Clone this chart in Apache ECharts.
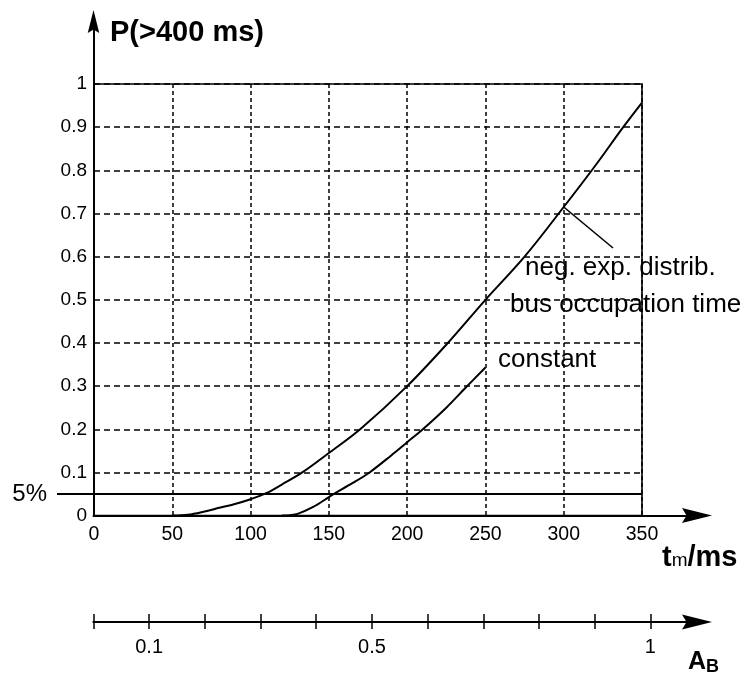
<!DOCTYPE html>
<html>
<head>
<meta charset="utf-8">
<script src="https://cdn.jsdelivr.net/npm/echarts@6/dist/echarts.min.js"></script>
<style>
  html, body { margin: 0; padding: 0; background: #fff; }
  #chart { width: 745px; height: 674px; }
</style>
</head>
<body>
<div id="chart"></div>
<script>
// values
const yTicks = [0, 0.1, 0.2, 0.3, 0.4, 0.5, 0.6, 0.7, 0.8, 0.9, 1];
const negExpT = [50, 60, 70, 80, 90, 100, 110, 120, 133, 150, 170, 200, 226, 250, 275, 300, 320, 338, 350];
const negExpP = [0, 0.002, 0.009, 0.018, 0.027, 0.038, 0.052, 0.072, 0.1, 0.145, 0.2, 0.3, 0.4, 0.5, 0.6, 0.715, 0.81, 0.9, 0.957];
const constT = [120, 125, 130, 140, 150, 153, 165, 176, 190, 200, 210, 225, 237, 250];
const constP = [0, 0.001, 0.004, 0.02, 0.043, 0.05, 0.075, 0.1, 0.14, 0.17, 0.2, 0.25, 0.295, 0.343];
const pointerT = [300, 331.5];   // leader line from the curve to the label
const pointerP = [0.715, 0.62];
const threshold = 0.05;          // 5% line
const abLabels = [0.1, 0.5, 1];

const zip = (xs, ys) => xs.map((x, i) => [x, ys[i]]);

const FONT = "'Liberation Sans', Arial, sans-serif";
const INK = '#000';

const arrowSym = 'path://M5 0 L10 20 L5 17 L0 20 Z';

const chart = echarts.init(document.getElementById('chart'), null, { renderer: 'canvas' });

const option = {
  backgroundColor: '#fff',
  animation: false,
  grid: [
    // main plot
    { left: 94, top: 84, width: 548, height: 431.6, show: true, borderColor: INK, borderWidth: 1.6, backgroundColor: 'transparent' },
    // axis arrows
    { left: 93.5, top: 21.5, width: 603.5, height: 494.1 },
    // 5% line, reaching left of the plot
    { left: 57, top: 84, width: 585, height: 431.6 },
    // A_B scale line + labels
    { left: 93.4, top: 621, width: 603.6, height: 1 },
    // A_B tick marks (crossing the line)
    { left: 93.4, top: 614, width: 557, height: 15 }
  ],
  xAxis: [
    {
      gridIndex: 0, type: 'value', min: 0, max: 350, interval: 50,
      axisLine: { show: false },
      axisTick: { show: false },
      axisLabel: { color: INK, fontFamily: FONT, fontSize: 19.5, margin: 9 },
      splitLine: { show: true, lineStyle: { color: INK, width: 1.5, type: [4, 3] } }
    },
    {
      gridIndex: 1, type: 'value', min: 0, max: 1,
      axisLine: { show: true, lineStyle: { color: INK, width: 2 }, symbol: ['none', arrowSym], symbolSize: [15, 30] },
      axisTick: { show: false }, axisLabel: { show: false }, splitLine: { show: false }
    },
    {
      gridIndex: 2, type: 'value', min: 0, max: 1, show: false
    },
    {
      gridIndex: 3, type: 'value', min: 0, max: 1.0836,
      axisLine: { show: true, lineStyle: { color: INK, width: 2 }, symbol: ['none', arrowSym], symbolSize: [15, 30] },
      axisTick: { show: false },
      axisLabel: { color: INK, fontFamily: FONT, fontSize: 20, margin: 15, customValues: abLabels },
      splitLine: { show: false }
    },
    {
      gridIndex: 4, type: 'value', min: 0, max: 1, interval: 0.1,
      axisLine: { show: false }, axisTick: { show: false }, axisLabel: { show: false },
      splitLine: { show: true, lineStyle: { color: INK, width: 1.5 } }
    }
  ],
  yAxis: [
    {
      gridIndex: 0, type: 'value', min: 0, max: 1, interval: 0.1,
      axisLine: { show: false },
      axisTick: { show: false },
      axisLabel: { color: INK, fontFamily: FONT, fontSize: 19, margin: 7, customValues: yTicks },
      splitLine: { show: true, lineStyle: { color: INK, width: 1.5, type: [6, 4] } }
    },
    {
      gridIndex: 1, type: 'value', min: 0, max: 1,
      axisLine: { show: true, lineStyle: { color: INK, width: 2 }, symbol: ['none', arrowSym], symbolSize: [15, 23] },
      axisTick: { show: false }, axisLabel: { show: false }, splitLine: { show: false }
    },
    {
      gridIndex: 2, type: 'value', min: 0, max: 1,
      axisLine: { show: false }, axisTick: { show: false }, splitLine: { show: false },
      axisLabel: { color: INK, fontFamily: FONT, fontSize: 24, margin: 10, customValues: [threshold], formatter: () => '5%' }
    },
    { gridIndex: 3, type: 'value', show: false, min: 0, max: 1 },
    { gridIndex: 4, type: 'value', show: false, min: 0, max: 1 }
  ],
  series: [
    {
      name: 'neg. exp.', type: 'line', xAxisIndex: 0, yAxisIndex: 0,
      data: zip(negExpT, negExpP), smooth: 0.35,
      showSymbol: false, lineStyle: { color: INK, width: 2 }, z: 5
    },
    {
      name: 'constant', type: 'line', xAxisIndex: 0, yAxisIndex: 0,
      data: zip(constT, constP), smooth: 0.35,
      showSymbol: false, lineStyle: { color: INK, width: 2 }, z: 5
    },
    {
      name: 'pointer', type: 'line', xAxisIndex: 0, yAxisIndex: 0, clip: false,
      data: zip(pointerT, pointerP), showSymbol: false,
      lineStyle: { color: INK, width: 1.6 }, z: 5
    },
    {
      name: '5%', type: 'line', xAxisIndex: 2, yAxisIndex: 2,
      data: [[0, threshold], [1, threshold]], showSymbol: false,
      lineStyle: { color: INK, width: 2 }, z: 6
    }
  ],
  graphic: [
    {
      type: 'text', left: 110, top: 18,
      style: { text: 'P(>400 ms)', fill: INK, font: "bold 29px " + FONT }
    },
    {
      type: 'text', x: 525, y: 268,
      style: { text: 'neg. exp. distrib.', fill: INK, font: "26px " + FONT, textVerticalAlign: 'middle' }
    },
    {
      type: 'text', x: 510, y: 305,
      style: { text: 'bus occupation time', fill: INK, font: "26px " + FONT, textVerticalAlign: 'middle' }
    },
    {
      type: 'text', x: 498, y: 360,
      style: { text: 'constant', fill: INK, font: "26px " + FONT, textVerticalAlign: 'middle' }
    },
    {
      type: 'text', x: 662, y: 543,
      style: {
        text: '{b|t}{s|m}{b|/ms}',
        rich: {
          b: { fontFamily: FONT, fontWeight: 'bold', fontSize: 29, fill: INK, verticalAlign: 'bottom' },
          s: { fontFamily: FONT, fontSize: 19, fill: INK, padding: [0, 0, -7, 0] }
        }
      }
    },
    {
      type: 'text', x: 688, y: 650,
      style: {
        text: '{b|A}{s|B}',
        rich: {
          b: { fontFamily: FONT, fontWeight: 'bold', fontSize: 25, fill: INK },
          s: { fontFamily: FONT, fontWeight: 'bold', fontSize: 18, fill: INK, padding: [0, 0, -10, 0] }
        }
      }
    }
  ]
};

chart.setOption(option);
</script>
</body>
</html>
